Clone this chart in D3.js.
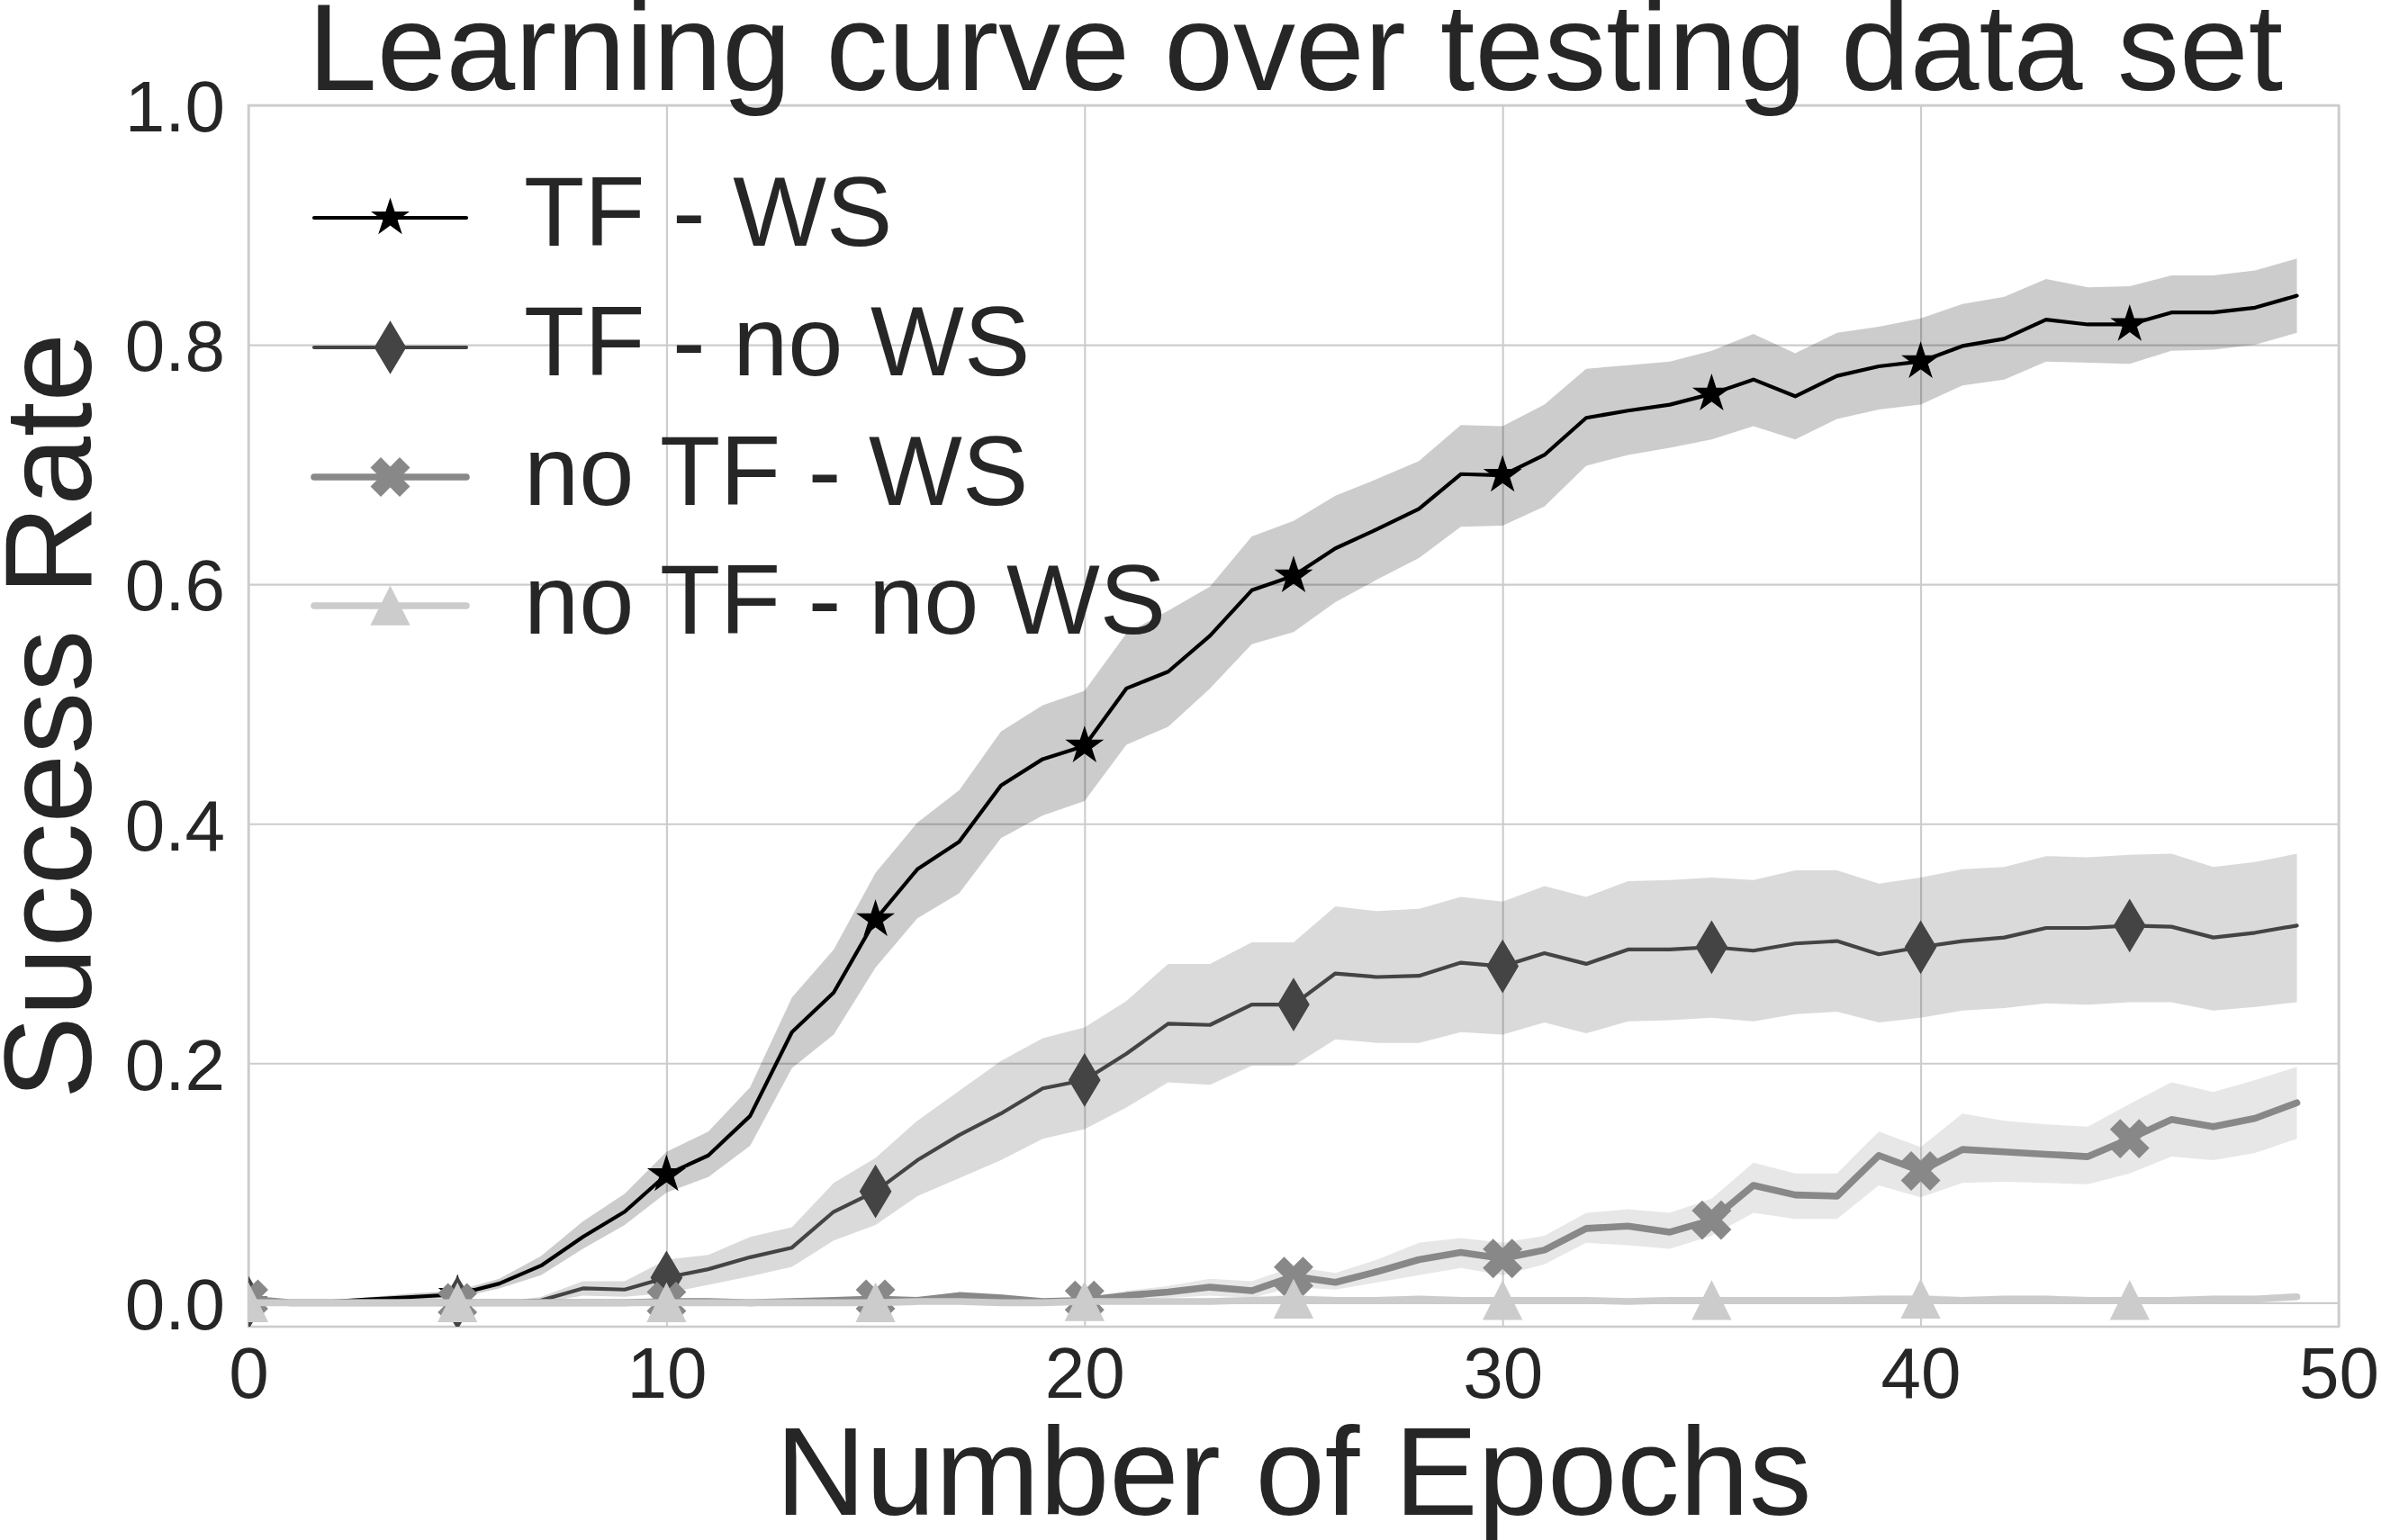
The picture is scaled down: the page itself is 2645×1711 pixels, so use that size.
<!DOCTYPE html>
<html>
<head>
<meta charset="utf-8">
<script src="https://cdn.jsdelivr.net/npm/d3@7"></script>
<style>
  html, body { margin: 0; padding: 0; background: #ffffff; }
  svg { display: block; font-family: "Liberation Sans", Arial, sans-serif; }
</style>
</head>
<body>
<div id="chart"></div>
<script>
// values, one entry per epoch
const epochs = [0, 1, 2, 3, 4, 5, 6, 7, 8, 9, 10, 11, 12, 13, 14, 15, 16, 17, 18, 19,
    20, 21, 22, 23, 24, 25, 26, 27, 28, 29, 30, 31, 32, 33, 34, 35, 36, 37, 38, 39,
    40, 41, 42, 43, 44, 45, 46, 47, 48, 49];

const tfWsMean = [0.000, 0.000, 0.001, 0.003, 0.005, 0.007, 0.016, 0.031, 0.055, 0.076,
    0.107, 0.123, 0.156, 0.226, 0.259, 0.320, 0.362, 0.385, 0.432, 0.454,
    0.465, 0.513, 0.527, 0.557, 0.595, 0.607, 0.630, 0.646, 0.663, 0.692,
    0.691, 0.708, 0.739, 0.745, 0.750, 0.759, 0.771, 0.757, 0.774, 0.782,
    0.786, 0.799, 0.805, 0.821, 0.817, 0.817, 0.827, 0.827, 0.831, 0.841];
const tfWsHigh = [0.000, 0.000, 0.002, 0.005, 0.008, 0.010, 0.020, 0.039, 0.068, 0.091,
    0.126, 0.143, 0.180, 0.255, 0.295, 0.359, 0.401, 0.428, 0.477, 0.499,
    0.511, 0.559, 0.578, 0.598, 0.640, 0.653, 0.674, 0.688, 0.703, 0.733,
    0.732, 0.750, 0.780, 0.783, 0.786, 0.795, 0.809, 0.793, 0.810, 0.815,
    0.822, 0.834, 0.840, 0.855, 0.848, 0.849, 0.858, 0.858, 0.862, 0.872];
const tfWsLow = [0.000, 0.000, 0.000, 0.001, 0.003, 0.004, 0.012, 0.023, 0.045, 0.065,
    0.092, 0.105, 0.131, 0.196, 0.224, 0.280, 0.321, 0.342, 0.388, 0.407,
    0.419, 0.466, 0.481, 0.513, 0.550, 0.560, 0.585, 0.604, 0.622, 0.648,
    0.649, 0.665, 0.699, 0.708, 0.714, 0.721, 0.732, 0.721, 0.738, 0.746,
    0.750, 0.766, 0.771, 0.786, 0.785, 0.784, 0.795, 0.796, 0.800, 0.810];

const tfNoWsMean = [0.000, 0.000, 0.000, 0.000, 0.000, 0.000, 0.000, 0.002, 0.012, 0.011,
    0.021, 0.028, 0.038, 0.046, 0.076, 0.093, 0.119, 0.140, 0.158, 0.179,
    0.186, 0.208, 0.233, 0.232, 0.249, 0.249, 0.275, 0.272, 0.273, 0.284,
    0.281, 0.292, 0.283, 0.295, 0.295, 0.297, 0.294, 0.300, 0.302, 0.291,
    0.297, 0.302, 0.305, 0.313, 0.313, 0.315, 0.314, 0.305, 0.309, 0.315];
const tfNoWsHigh = [0.000, 0.000, 0.000, 0.000, 0.000, 0.000, 0.000, 0.005, 0.018, 0.018,
    0.036, 0.040, 0.055, 0.063, 0.100, 0.121, 0.152, 0.177, 0.202, 0.221,
    0.230, 0.252, 0.283, 0.283, 0.301, 0.301, 0.331, 0.327, 0.329, 0.339,
    0.335, 0.348, 0.339, 0.352, 0.353, 0.355, 0.353, 0.361, 0.361, 0.350,
    0.355, 0.362, 0.364, 0.373, 0.372, 0.374, 0.375, 0.364, 0.368, 0.375];
const tfNoWsLow = [0.000, 0.000, 0.000, 0.000, 0.000, 0.000, 0.000, 0.000, 0.006, 0.005,
    0.008, 0.015, 0.022, 0.030, 0.052, 0.065, 0.089, 0.104, 0.119, 0.137,
    0.145, 0.163, 0.184, 0.182, 0.198, 0.198, 0.220, 0.217, 0.217, 0.226,
    0.224, 0.234, 0.225, 0.235, 0.236, 0.238, 0.235, 0.241, 0.243, 0.234,
    0.238, 0.244, 0.246, 0.250, 0.249, 0.251, 0.251, 0.244, 0.247, 0.251];

const noTfWsMean = [0.003, 0.000, 0.000, 0.000, 0.000, 0.000, 0.000, 0.000, 0.000, 0.000,
    0.001, 0.001, 0.000, 0.001, 0.002, 0.003, 0.002, 0.006, 0.004, 0.001,
    0.002, 0.006, 0.009, 0.013, 0.010, 0.022, 0.017, 0.026, 0.036, 0.042,
    0.037, 0.044, 0.062, 0.064, 0.059, 0.069, 0.098, 0.090, 0.089, 0.123,
    0.110, 0.128, 0.126, 0.124, 0.122, 0.137, 0.153, 0.147, 0.154, 0.167];
const noTfWsHigh = [0.005, 0.001, 0.001, 0.001, 0.001, 0.001, 0.001, 0.001, 0.002, 0.002,
    0.003, 0.003, 0.002, 0.003, 0.004, 0.006, 0.004, 0.009, 0.007, 0.003,
    0.004, 0.010, 0.014, 0.020, 0.018, 0.030, 0.025, 0.036, 0.050, 0.054,
    0.050, 0.056, 0.075, 0.078, 0.075, 0.087, 0.117, 0.108, 0.108, 0.143,
    0.130, 0.158, 0.152, 0.149, 0.147, 0.166, 0.184, 0.176, 0.186, 0.197];
const noTfWsLow = [0.001, 0.000, 0.000, 0.000, 0.000, 0.000, 0.000, 0.000, 0.000, 0.000,
    0.000, 0.000, 0.000, 0.000, 0.000, 0.001, 0.000, 0.003, 0.001, 0.000,
    0.000, 0.002, 0.004, 0.006, 0.004, 0.013, 0.011, 0.017, 0.023, 0.029,
    0.023, 0.032, 0.050, 0.048, 0.045, 0.056, 0.075, 0.070, 0.070, 0.098,
    0.088, 0.100, 0.101, 0.100, 0.099, 0.108, 0.122, 0.119, 0.125, 0.137];

const noTfNoWsMean = [0.000, 0.000, 0.000, 0.000, 0.000, 0.000, 0.000, 0.000, 0.000, 0.000,
    0.000, 0.000, 0.000, 0.000, 0.000, 0.000, 0.001, 0.001, 0.000, 0.000,
    0.001, 0.001, 0.001, 0.001, 0.002, 0.003, 0.002, 0.002, 0.003, 0.002,
    0.002, 0.002, 0.002, 0.001, 0.002, 0.002, 0.002, 0.002, 0.002, 0.003,
    0.003, 0.002, 0.003, 0.003, 0.002, 0.002, 0.002, 0.003, 0.003, 0.005];
const noTfNoWsHigh = [0.001, 0.001, 0.001, 0.001, 0.001, 0.001, 0.001, 0.001, 0.001, 0.001,
    0.001, 0.001, 0.001, 0.001, 0.002, 0.002, 0.003, 0.003, 0.002, 0.002,
    0.003, 0.003, 0.003, 0.004, 0.005, 0.007, 0.005, 0.005, 0.006, 0.005,
    0.005, 0.005, 0.005, 0.004, 0.005, 0.005, 0.005, 0.005, 0.005, 0.006,
    0.007, 0.005, 0.006, 0.006, 0.005, 0.005, 0.005, 0.006, 0.006, 0.008];
const noTfNoWsLow = [0.000, 0.000, 0.000, 0.000, 0.000, 0.000, 0.000, 0.000, 0.000, 0.000,
    0.000, 0.000, 0.000, 0.000, 0.000, 0.000, 0.000, 0.000, 0.000, 0.000,
    0.000, 0.000, 0.000, 0.000, 0.000, 0.000, 0.000, 0.000, 0.000, 0.000,
    0.000, 0.000, 0.000, 0.000, 0.000, 0.000, 0.000, 0.000, 0.000, 0.000,
    0.000, 0.000, 0.000, 0.000, 0.000, 0.000, 0.000, 0.000, 0.000, 0.002];

const seriesNames = ["TF - WS", "TF - no WS", "no TF - WS", "no TF - no WS"];
const xTicks = [0, 10, 20, 30, 40, 50];
const yTicks = [0.0, 0.2, 0.4, 0.6, 0.8, 1.0];
const titleText = "Learning curve over testing data set";
const xLabelText = "Number of Epochs";
const yLabelText = "Success Rate";

// drawing setup
const width = 2645;
const height = 1711;
const plotLeft = 276;
const plotRight = 2598;
const plotTop = 117;
const plotBottom = 1474;
const textColor = "#262626";
const gridColor = "#cccccc";

const series = [
    {name: seriesNames[0], mean: tfWsMean, low: tfWsLow, high: tfWsHigh, color: "#000000", lw: 4.2, marker: "star"},
    {name: seriesNames[1], mean: tfNoWsMean, low: tfNoWsLow, high: tfNoWsHigh, color: "#444444", lw: 4.2, marker: "diamond"},
    {name: seriesNames[2], mean: noTfWsMean, low: noTfWsLow, high: noTfWsHigh, color: "#888888", lw: 7.6, marker: "x"},
    {name: seriesNames[3], mean: noTfNoWsMean, low: noTfNoWsLow, high: noTfNoWsHigh, color: "#cccccc", lw: 7.6, marker: "triangle"}
];

const markerPath = function(kind) {
    if (kind === "star") {
        const R = 20.3;
        const pts = [];
        for (let k = 0; k < 10; ++k) {
            const a = -Math.PI / 2 + k * Math.PI / 5;
            const r = k % 2 === 0 ? R : R * 0.381966;
            pts.push([r * Math.cos(a), r * Math.sin(a)]);
        }
        return "M" + pts.map(p => p[0].toFixed(2) + "," + p[1].toFixed(2)).join("L") + "Z";
    }
    if (kind === "diamond") {
        return "M0,-28.5L17,0L0,28.5L-17,0Z";
    }
    if (kind === "x") {
        // filled plus, turned by 45 degrees
        const s = 44.5 / 6;
        const base = [[-1, -3], [1, -3], [1, -1], [3, -1], [3, 1], [1, 1], [1, 3], [-1, 3], [-1, 1], [-3, 1], [-3, -1], [-1, -1]];
        const c = Math.cos(Math.PI / 4);
        const pts = base.map(p => [(p[0] * c - p[1] * c) * s, (p[0] * c + p[1] * c) * s]);
        return "M" + pts.map(p => p[0].toFixed(2) + "," + p[1].toFixed(2)).join("L") + "Z";
    }
    return "M0,-21L21,21L-21,21Z";
};

const svg = d3.select("#chart").append("svg")
    .attr("width", width)
    .attr("height", height);

const xScale = d3.scaleLinear().domain([0, 50]).range([plotLeft, plotRight]);
const yScale = d3.scaleLinear().domain([-0.02, 1.0]).range([plotBottom, plotTop]);

svg.append("defs").append("clipPath")
    .attr("id", "plot-clip")
    .append("rect")
    .attr("x", plotLeft)
    .attr("y", plotTop)
    .attr("width", plotRight - plotLeft)
    .attr("height", plotBottom - plotTop);

// grid
const xAxis = d3.axisBottom(xScale).tickValues(xTicks).tickSize(-(plotBottom - plotTop)).tickPadding(22).tickFormat(d3.format("d"));
const yAxis = d3.axisLeft(yScale).tickValues(yTicks).tickSize(-(plotRight - plotLeft)).tickPadding(26).tickFormat(d3.format(".1f"));

const gx = svg.append("g")
    .attr("transform", "translate(0," + plotBottom + ")")
    .call(xAxis);
const gy = svg.append("g")
    .attr("transform", "translate(" + plotLeft + ",0)")
    .call(yAxis);

[gx, gy].forEach(function(g) {
    g.select(".domain").remove();
    g.selectAll(".tick line").attr("stroke", gridColor).attr("stroke-width", 2.1);
    g.selectAll(".tick text")
        .attr("fill", textColor)
        .style("font-size", "80px")
        .style("font-family", "\"Liberation Sans\", Arial, sans-serif");
});
gx.selectAll(".tick text").attr("dy", "0.71em");
gy.selectAll(".tick text").attr("dy", "0.36em");

// frame
svg.append("rect")
    .attr("x", plotLeft)
    .attr("y", plotTop)
    .attr("width", plotRight - plotLeft)
    .attr("height", plotBottom - plotTop)
    .attr("fill", "none")
    .attr("stroke", gridColor)
    .attr("stroke-width", 2.6);

const plotArea = svg.append("g").attr("clip-path", "url(#plot-clip)");

const band = d3.area()
    .x((d, i) => xScale(epochs[i]))
    .y0(d => yScale(d[0]))
    .y1(d => yScale(d[1]));
const line = d3.line()
    .x((d, i) => xScale(epochs[i]))
    .y(d => yScale(d));

series.forEach(function(s) {
    const bandData = s.low.map((v, i) => [v, s.high[i]]);
    plotArea.append("path")
        .attr("d", band(bandData))
        .attr("fill", s.color)
        .attr("fill-opacity", 0.2);
    plotArea.append("path")
        .attr("d", line(s.mean))
        .attr("fill", "none")
        .attr("stroke", s.color)
        .attr("stroke-width", s.lw)
        .attr("stroke-linejoin", "round")
        .attr("stroke-linecap", "round");
    const marked = epochs.filter(e => e % 5 === 0);
    plotArea.selectAll(null)
        .data(marked)
        .enter()
        .append("path")
        .attr("d", markerPath(s.marker))
        .attr("transform", e => "translate(" + xScale(e) + "," + yScale(s.mean[e]) + ")")
        .attr("fill", s.color)
        .attr("stroke", s.color)
        .attr("stroke-width", 1.4);
});

// legend
const legendY = [242, 386, 530, 673];
series.forEach(function(s, i) {
    const g = svg.append("g").attr("transform", "translate(0," + legendY[i] + ")");
    g.append("line")
        .attr("x1", 349).attr("x2", 518)
        .attr("y1", 0).attr("y2", 0)
        .attr("stroke", s.color)
        .attr("stroke-width", s.lw)
        .attr("stroke-linecap", "round");
    g.append("path")
        .attr("d", markerPath(s.marker))
        .attr("transform", "translate(433.5,0)")
        .attr("fill", s.color)
        .attr("stroke", s.color)
        .attr("stroke-width", 1.4);
    g.append("text")
        .attr("x", 582)
        .attr("y", 31)
        .attr("fill", textColor)
        .style("font-size", "110px")
        .text(s.name);
});

// title and axis labels
svg.append("text")
    .attr("x", 1439)
    .attr("y", 100)
    .attr("text-anchor", "middle")
    .attr("fill", textColor)
    .style("font-size", "138px")
    .text(titleText);

svg.append("text")
    .attr("x", (plotLeft + plotRight) / 2)
    .attr("y", 1683)
    .attr("text-anchor", "middle")
    .attr("fill", textColor)
    .style("font-size", "139px")
    .text(xLabelText);

svg.append("text")
    .attr("transform", "translate(101," + (plotTop + plotBottom) / 2 + ") rotate(-90)")
    .attr("text-anchor", "middle")
    .attr("fill", textColor)
    .style("font-size", "138px")
    .text(yLabelText);
</script>
</body>
</html>
